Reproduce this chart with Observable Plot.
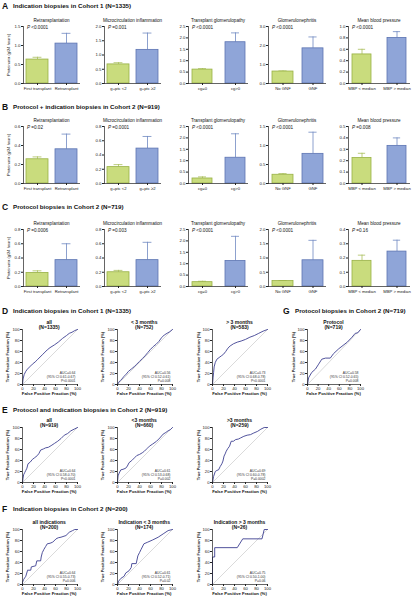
<!DOCTYPE html>
<html><head><meta charset="utf-8">
<script src="https://cdn.jsdelivr.net/npm/d3@7"></script>
<script src="https://cdn.jsdelivr.net/npm/@observablehq/plot@0.6"></script>
<style>
body{margin:0;background:#fff;}
#fig{position:relative;width:413px;height:597px;overflow:hidden;background:#fff;font-family:"Liberation Sans",Arial,sans-serif;color:#111;}
.t{position:absolute;white-space:nowrap;line-height:1;}
</style></head><body><div id="fig"></div>
<script>
// ---------- DATA ----------
const rowTitlesBars = ["Indication biopsies in Cohort 1 (N=1335)", "Protocol + indication biopsies in Cohort 2 (N=919)", "Protocol biopsies in Cohort 2 (N=719)"];
const rowLettersBars = ["A", "B", "C"];
const panelTitles = ["Retransplantation", "Microcirculation inflammation", "Transplant glomerulopathy", "Glomerulonephritis", "Mean blood pressure"];
const groupLabels = [["First transplant", "Retransplant"], ["g+ptc <2", "g+ptc ≥2"], ["cg=0", "cg>0"], ["No GNF", "GNF"], ["MBP < median", "MBP > median"]];
const yLabelBars = "Proteinuria (g/24 hours)";

const meanA = [[0.63, 1.05], [0.67, 1.18], [0.61, 1.81], [0.63, 1.85], [0.51, 0.80]];
const upperA = [[0.69, 1.32], [0.73, 1.77], [0.65, 2.22], [0.66, 2.45], [0.60, 0.91]];
const pA = ["<0.0001", "=0.001", "<0.0001", "<0.0001", "<0.0001"];
const ticksA = [[0, 0.5, 1.0, 1.5], [0, 0.5, 1.0, 1.5, 2.0], [0, 0.5, 1.0, 1.5, 2.0, 2.5], [0, 1.0, 2.0, 3.0], [0, 0.2, 0.4, 0.6, 0.8, 1.0]];

const meanB = [[0.255, 0.36], [0.23, 0.49], [0.22, 1.13], [0.23, 0.78], [0.224, 0.33]];
const upperB = [[0.28, 0.52], [0.265, 0.66], [0.29, 2.18], [0.26, 1.35], [0.265, 0.40]];
const pB = ["=0.02", "=0.0001", "<0.0001", "<0.0001", "=0.008"];
const ticksB = [[0, 0.2, 0.4, 0.6], [0, 0.2, 0.4, 0.6, 0.8], [0, 0.5, 1.0, 1.5, 2.0, 2.5], [0, 0.5, 1.0, 1.5], [0, 0.1, 0.2, 0.3, 0.4, 0.5]];

const meanC = [[0.19, 0.37], [0.20, 0.37], [0.19, 1.12], [0.19, 0.92], [0.18, 0.245]];
const upperC = [[0.22, 0.60], [0.226, 0.62], [0.23, 2.2], [0.21, 1.62], [0.22, 0.325]];
const pC = ["=0.0006", "=0.003", "<0.0001", "<0.0001", "=0.16"];
const ticksC = [[0, 0.2, 0.4, 0.6, 0.8], [0, 0.2, 0.4, 0.6, 0.8], [0, 0.5, 1.0, 1.5, 2.0, 2.5], [0, 0.5, 1.0, 1.5, 2.0], [0, 0.1, 0.2, 0.3, 0.4]];

// ROC data (false positive % / true positive %)
const rocTicks = [0, 20, 40, 60, 80, 100];
const chanceLine = [0, 100];
const rocXLabel = "False Positive Fraction (%)";
const rocYLabel = "True Positive Fraction (%)";

const rocD_all = {fpr: [0,1,3,6,9,13,18,23,27,32,36,41,45,50,58,65,73,80,85,90,95,100], tpr: [0,10,18,24,28,32,37,41,45,50,54,59,63,67,72,77,84,89,93,95,98,100]};
const rocD_lt3 = {fpr: [0,2,5,8,12,16,20,25,30,35,40,45,50,55,60,65,70,75,80,85,90,95,100], tpr: [0,4,7,10,15,19,24,28,32,37,42,47,52,58,64,69,73,78,85,90,93,96,100]};
const rocD_gt3 = {fpr: [0,1,2,3,5,8,12,16,20,24,28,32,38,45,52,60,68,76,84,92,100], tpr: [0,12,22,32,40,46,49,52,55,60,66,70,74,77,79,82,86,89,93,97,100]};
const rocG = {fpr: [0,2,8,15,21,27,34,43,49,59,67,75,84,90,95,100], tpr: [0,12,22,28,37,46,48,48,56,65,71,77,86,93,94,100]};
const rocE_all = {fpr: [0,1,2,4,6,8,10,14,18,22,27,30,33,38,42,47,52,58,64,70,76,82,88,94,100], tpr: [0,8,14,18,22,26,34,37,42,45,49,53,59,61,63,64,67,71,75,80,86,89,94,97,100]};
const rocE_lt3 = {fpr: [0,1,3,6,10,15,18,21,26,31,35,40,45,49,54,58,64,71,77,83,88,92,96,100], tpr: [0,12,17,23,24,26,30,36,40,45,49,51,54,57,62,66,70,75,81,88,91,94,96,100]};
const rocE_gt3 = {fpr: [0,2,5,8,11,14,17,19,21,23,25,28,31,34,38,42,47,51,57,63,69,75,82,88,94,100], tpr: [0,11,20,22,23,29,34,39,48,52,57,62,66,75,75,78,79,81,84,86,87,90,93,97,100,100]};
const rocF_all = {fpr: [0,0,2,4,6,9,9,15,16,24,26,33,34,36,39,42,45,50,55,61,65,70,79,85,91,95,100], tpr: [0,4,9,12,15,25,26,26,32,34,43,43,50,58,64,69,74,75,77,83,85,86,89,95,98,100,100]};
const rocF_lt3 = {fpr: [0,2,6,12,15,21,25,26,34,37,40,43,48,55,64,74,83,92,100], tpr: [0,6,11,15,21,25,31,38,38,52,58,64,74,77,81,86,92,98,100]};
const rocF_gt3 = {fpr: [0,0,4,4,45,55,90,94,100], tpr: [0,50,50,67,67,83,83,100,100]};

const rocTitleD = "Indication biopsies in Cohort 1 (N=1335)";
const rocTitleE = "Protocol and indication biopsies in Cohort 2 (N=919)";
const rocTitleF = "Indication biopsies in Cohort 2 (N=200)";
const rocTitleG = "Protocol biopsies in Cohort 2 (N=719)";
const rocSubD = [["all", "(N=1335)"], ["< 3 months", "(N=752)"], ["> 3 months", "(N=583)"]];
const rocSubE = [["all", "(N=919)"], ["<3 months", "(N=660)"], [">3 months", "(N=259)"]];
const rocSubF = [["all indications", "(N=200)"], ["Indication < 3 months", "(N=174)"], ["Indication > 3 months", "(N=26)"]];
const rocSubG = ["Protocol", "(N=719)"];
const aucD = ["AUC=0.64\n(95% CI 0.61-0.67)\nP<0.0001", "AUC=0.56\n(95% CI 0.52-0.61)\nP=0.008", "AUC=0.73\n(95% CI 0.68-0.78)\nP<0.0001"];
const aucE = ["AUC=0.64\n(95% CI 0.58-0.70)\nP<0.0001", "AUC=0.61\n(95% CI 0.53-0.68)\nP=0.002", "AUC=0.69\n(95% CI 0.60-0.78)\nP=0.0002"];
const aucF = ["AUC=0.64\n(95% CI 0.55-0.73)\nP=0.006", "AUC=0.61\n(95% CI 0.52-0.71)\nP=0.02", "AUC=0.75\n(95% CI 0.50-1.00)\nP=0.06"];
const aucG = "AUC=0.58\n(95% CI 0.52-0.65)\nP=0.008";

// ---------- STYLE / LAYOUT ----------
const FILL = ["#c9dc7d", "#8fa5d8"];
const EDGE = ["#98b145", "#5c74b2"];
const ERR = ["#a9bf5c", "#7089c2"];
const ROC = "#3d3f91";
const AX = "#222";
const FONT = '"Liberation Sans", Arial, sans-serif';

const barTops = [26, 126, 229];
const barH = 57;
const barLefts = [23, 104, 188, 268, 348];
const barWidths = [57, 57, 60, 58, 62];
const barPadIn = [0.25, 0.25, 0.4, 0.3, 0.45];
const rowTitleY = [6, 107, 207];

const rocLefts = [21.7, 116.7, 212];
const rocW = 55, rocH = 55;
const rocTops = [329, 427, 529];
const rocTitleYs = [310.5, 410, 509];
const gLeft = 307, gW = 53;

const fig = document.getElementById("fig");

function addText(html, x, y, o = {}) {
  const d = document.createElement("div");
  d.className = "t";
  d.innerHTML = html;
  d.style.left = x + "px";
  d.style.top = y + "px";
  d.style.fontSize = (o.size || 5) + "px";
  d.style.fontWeight = o.bold ? "bold" : "normal";
  if (o.color) d.style.color = o.color;
  const ax = o.anchor === "middle" ? "-50%" : o.anchor === "end" ? "-100%" : "0";
  d.style.transform = `translate(${o.rotate ? "-50%" : ax},-50%)` + (o.rotate ? ` rotate(${o.rotate}deg)` : "");
  fig.appendChild(d);
  return d;
}

function place(svg, left, top) {
  svg.style.position = "absolute";
  svg.style.left = left + "px";
  svg.style.top = top + "px";
  svg.style.background = "transparent";
  svg.style.maxWidth = "none";
  svg.style.overflow = "visible";
  fig.appendChild(svg);
}

const BM = {l: 16, r: 3, t: 3, b: 12};
function barPanel(vals, ups, labels, ticks, left, top, w, pin) {
  const po = 0.1;
  const bw = w / (2 - pin + 2 * po) * (1 - pin);
  const data = labels.map((g, i) => ({g, v: vals[i], u: ups[i]}));
  const marks = [];
  data.forEach((d, i) => {
    marks.push(Plot.ruleX([d], {x: "g", y1: "v", y2: "u", stroke: ERR[i], strokeWidth: 0.8}));
    marks.push(Plot.tickY([d], {x: "g", y: "u", stroke: ERR[i], strokeWidth: 0.8, insetLeft: bw * 0.3, insetRight: bw * 0.3}));
    marks.push(Plot.barY([d], {x: "g", y: "v", fill: FILL[i], stroke: EDGE[i], strokeWidth: 0.8}));
  });
  marks.push(Plot.axisY({ticks, tickFormat: d3.format(".1f"), tickSize: 2, tickPadding: 1, fontSize: 4.3, label: null, stroke: AX}));
  marks.push(Plot.axisX({tickSize: 2, tickPadding: 1.2, fontSize: 4.2, label: null, stroke: AX}));
  marks.push(Plot.ruleY([0], {stroke: AX, strokeWidth: 0.7}));
  marks.push(Plot.frame({anchor: "left", stroke: AX, strokeWidth: 0.7}));
  const svg = Plot.plot({
    width: w + BM.l + BM.r, height: barH + BM.t + BM.b,
    marginLeft: BM.l, marginRight: BM.r, marginTop: BM.t, marginBottom: BM.b,
    style: {fontFamily: FONT, fontSize: "4.5px", color: AX, background: "transparent"},
    x: {domain: labels, paddingInner: pin, paddingOuter: po, axis: null},
    y: {domain: [0, ticks[ticks.length - 1]], axis: null},
    marks
  });
  place(svg, left - BM.l, top - BM.t);
}

const RM = {l: 14, r: 4, t: 3, b: 8};
function rocPanel(curve, auc, left, top, w) {
  const pts = curve.fpr.map((f, i) => ({f, t: curve.tpr[i]}));
  const svg = Plot.plot({
    width: w + RM.l + RM.r, height: rocH + RM.t + RM.b,
    marginLeft: RM.l, marginRight: RM.r, marginTop: RM.t, marginBottom: RM.b,
    style: {fontFamily: FONT, fontSize: "4px", color: AX, background: "transparent"},
    x: {domain: [0, 100], axis: null},
    y: {domain: [0, 100], axis: null},
    marks: [
      Plot.line(chanceLine, {x: d => d, y: d => d, stroke: "#b5b5b5", strokeWidth: 0.5}),
      Plot.line(pts, {x: "f", y: "t", stroke: ROC, strokeWidth: 0.9}),
      Plot.axisX({ticks: rocTicks, tickSize: 2, tickPadding: 1, fontSize: 4.2, label: null, stroke: AX}),
      Plot.axisY({ticks: rocTicks, tickSize: 2, tickPadding: 1, fontSize: 4.2, label: null, stroke: AX}),
      Plot.frame({anchor: "left", stroke: AX, strokeWidth: 0.7}),
      Plot.frame({anchor: "bottom", stroke: AX, strokeWidth: 0.7}),
      Plot.text([auc], {text: d => d, frameAnchor: "bottom-right", textAnchor: "end", lineAnchor: "bottom", dx: -2, dy: -3, fontSize: 3.4, lineHeight: 1.15, fill: "#333"})
    ]
  });
  place(svg, left - RM.l, top - RM.t);
}

// ---------- BAR ROWS ----------
const means = [meanA, meanB, meanC];
const uppers = [upperA, upperB, upperC];
const ps = [pA, pB, pC];
const tks = [ticksA, ticksB, ticksC];
for (let r = 0; r < 3; r++) {
  for (let p = 0; p < 5; p++) {
    barPanel(means[r][p], uppers[r][p], groupLabels[p], tks[r][p], barLefts[p], barTops[r], barWidths[p], barPadIn[p]);
  }
}
for (let r = 0; r < 3; r++) {
  addText(rowLettersBars[r], 2, rowTitleY[r], {size: 8.5, bold: true});
  addText(rowTitlesBars[r], 13, rowTitleY[r], {size: 6.2, bold: true});
  for (let p = 0; p < 5; p++) {
    addText(panelTitles[p], barLefts[p] + barWidths[p] / 2, barTops[r] - 5.5, {size: 4.6, anchor: "middle"});
    addText(`<i>P</i> ${ps[r][p]}`, barLefts[p] + 4, barTops[r] + 1.5, {size: 4.6});
  }
  addText(yLabelBars, 9, barTops[r] + barH / 2, {size: 4, rotate: -90});
}

// ---------- ROC ROWS ----------
const rocRows = [
  {letter: "D", title: rocTitleD, curves: [rocD_all, rocD_lt3, rocD_gt3], subs: rocSubD, aucs: aucD},
  {letter: "E", title: rocTitleE, curves: [rocE_all, rocE_lt3, rocE_gt3], subs: rocSubE, aucs: aucE},
  {letter: "F", title: rocTitleF, curves: [rocF_all, rocF_lt3, rocF_gt3], subs: rocSubF, aucs: aucF}
];
function rocLabels(sub, left, top, w) {
  addText(sub[0], left + w / 2, top - 7, {size: 5, bold: true, anchor: "middle"});
  addText(sub[1], left + w / 2, top - 1.8, {size: 5, bold: true, anchor: "middle"});
  addText(rocXLabel, left + w / 2, top + rocH + 9.5, {size: 4.3, bold: true, anchor: "middle"});
  addText(rocYLabel, left - 13.5, top + rocH / 2, {size: 4.1, bold: true, rotate: -90});
}
rocRows.forEach((row, r) => {
  row.curves.forEach((c, k) => rocPanel(c, row.aucs[k], rocLefts[k], rocTops[r], rocW));
});
rocPanel(rocG, aucG, gLeft, rocTops[0], gW);
rocRows.forEach((row, r) => {
  addText(row.letter, 2, rocTitleYs[r], {size: 8.5, bold: true});
  addText(row.title, 13, rocTitleYs[r], {size: 6.2, bold: true});
  row.subs.forEach((s, k) => rocLabels(s, rocLefts[k], rocTops[r], rocW));
});
addText("G", 283, rocTitleYs[0] + 0.5, {size: 8.5, bold: true});
addText(rocTitleG, 295, rocTitleYs[0] + 0.5, {size: 6.2, bold: true});
rocLabels(rocSubG, gLeft, rocTops[0], gW);
</script></body></html>
